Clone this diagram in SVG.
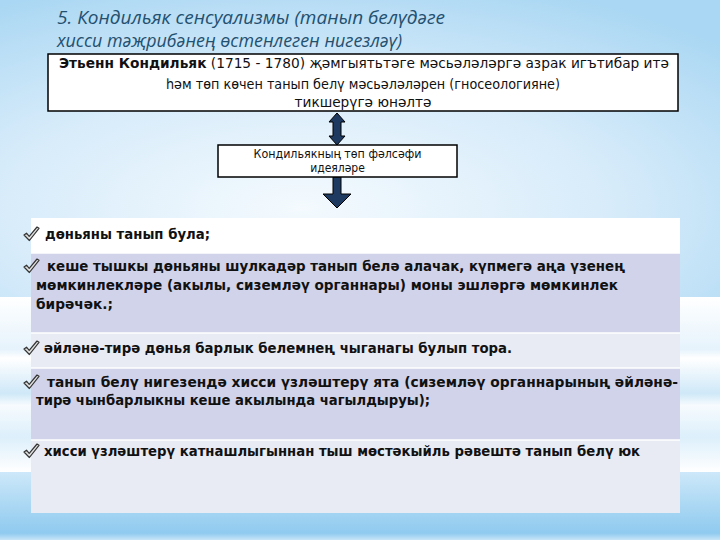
<svg xmlns="http://www.w3.org/2000/svg" width="720" height="540" viewBox="0 0 720 540">
<defs>
<radialGradient id="topbg" cx="0.42" cy="0.7" r="0.8">
<stop offset="0" stop-color="#f4fafe"/>
<stop offset="0.55" stop-color="#d6ebfa"/>
<stop offset="1" stop-color="#aad7f3"/>
</radialGradient>
<linearGradient id="midbg" x1="0" y1="0" x2="0" y2="1">
<stop offset="0" stop-color="#ffffff"/>
<stop offset="0.3" stop-color="#e6f3fc"/>
<stop offset="0.35" stop-color="#ffffff"/>
<stop offset="0.55" stop-color="#cfe8f8"/>
<stop offset="0.62" stop-color="#f7fbfe"/>
<stop offset="0.8" stop-color="#dceffb"/>
<stop offset="1" stop-color="#ffffff"/>
</linearGradient>
<linearGradient id="botbg" x1="0" y1="0" x2="0" y2="1">
<stop offset="0" stop-color="#cde8f9"/>
<stop offset="0.9" stop-color="#8fcaef"/>
<stop offset="1" stop-color="#c8e5f7"/>
</linearGradient>
<path id="chk" d="M0,8 L2.5,6.2 L5.2,9.4 L13,0 L15,1.3 L5.4,13.5 Z" fill="#e0e0e0" stroke="#333" stroke-width="1.2" stroke-linejoin="round"/>
<style>
.title{font-family:"Open Sans","DejaVu Sans",sans-serif;font-style:italic;font-size:17.5px;fill:#24506f}
.box{fill:#ffffff;stroke:#000;stroke-width:1.5}
.bt{font-family:"DejaVu Sans Condensed","DejaVu Sans",sans-serif;font-size:14px;fill:#111}
.st{font-family:"DejaVu Sans Condensed","DejaVu Sans",sans-serif;font-size:12px;fill:#111}
.tt{font-family:"DejaVu Sans Condensed","DejaVu Sans",sans-serif;font-size:14.5px;font-weight:bold;fill:#111}
.arr{fill:#1f3a60;stroke:#000;stroke-width:1}
.sep{stroke:#ffffff;stroke-width:1.5}
</style>
</defs>
<g id="background">
<rect x="0" y="0" width="720" height="297" fill="url(#topbg)"/>
<rect x="0" y="297" width="720" height="175" fill="url(#midbg)"/>
<rect x="0" y="472" width="720" height="68" fill="url(#botbg)"/>
</g>
<g id="title">
<text class="title" x="57" y="24" textLength="388" lengthAdjust="spacingAndGlyphs">5. Кондильяк сенсуализмы (танып белүдәге</text>
<text class="title" x="57" y="47" textLength="345" lengthAdjust="spacingAndGlyphs">хисси тәҗрибәнең өстенлеген нигезләү)</text>
</g>
<g id="connectors">
<polygon class="arr" points="337,113 345,122 341,122 341,136 345,136 337,145 329,136 333,136 333,122 329,122"/>
<polygon class="arr" points="333,177 341,177 341,194 351,194 337,208 323,194 333,194"/>
</g>
<g id="node-main">
<rect class="box" x="48" y="54" width="630" height="57"/>
<text class="bt" x="59" y="68" textLength="610" lengthAdjust="spacingAndGlyphs"><tspan font-weight="bold">Этьенн Кондильяк</tspan> (1715 - 1780) җәмгыятьтәге мәсьәләләргә азрак игътибар итә</text>
<text class="bt" x="363" y="89" text-anchor="middle" textLength="394" lengthAdjust="spacingAndGlyphs">һәм төп көчен танып белү мәсьәләләрен (гносеологияне)</text>
<text class="bt" x="363" y="107" text-anchor="middle" textLength="137" lengthAdjust="spacingAndGlyphs">тикшерүгә юнәлтә</text>
</g>
<g id="node-ideas">
<rect class="box" x="218" y="145" width="239" height="32"/>
<text class="st" x="337.5" y="157.5" text-anchor="middle" textLength="168" lengthAdjust="spacingAndGlyphs">Кондильякның төп фәлсәфи</text>
<text class="st" x="337.5" y="172" text-anchor="middle">идеяләре</text>
</g>
<g id="table">
<rect x="31" y="218" width="649" height="35" fill="#ffffff"/>
<rect x="31" y="253" width="649" height="80" fill="#d0d3ea"/>
<rect x="31" y="333" width="649" height="35" fill="#e8eaf4"/>
<rect x="31" y="368" width="649" height="72" fill="#d0d3ea"/>
<rect x="31" y="440" width="649" height="73" fill="#e8eaf4"/>
<line class="sep" x1="31" y1="253" x2="680" y2="253"/>
<line class="sep" x1="31" y1="333" x2="680" y2="333"/>
<line class="sep" x1="31" y1="368" x2="680" y2="368"/>
<line class="sep" x1="31" y1="440" x2="680" y2="440"/>
</g>
<g id="row1">
<use href="#chk" x="24" y="227"/>
<text class="tt" x="45" y="239" textLength="165" lengthAdjust="spacingAndGlyphs">дөньяны танып була;</text>
</g>
<g id="row2">
<use href="#chk" x="24" y="259"/>
<text class="tt" x="47" y="271" textLength="578" lengthAdjust="spacingAndGlyphs">кеше тышкы дөньяны шулкадәр танып белә алачак, күпмегә аңа үзенең</text>
<text class="tt" x="36" y="290" textLength="582" lengthAdjust="spacingAndGlyphs">мөмкинлекләре (акылы, сиземләү органнары) моны эшләргә мөмкинлек</text>
<text class="tt" x="36" y="309" textLength="77" lengthAdjust="spacingAndGlyphs">бирәчәк.;</text>
</g>
<g id="row3">
<use href="#chk" x="24" y="341"/>
<text class="tt" x="44" y="353" textLength="468" lengthAdjust="spacingAndGlyphs">әйләнә-тирә дөнья барлык белемнең чыганагы булып тора.</text>
</g>
<g id="row4">
<use href="#chk" x="24" y="375"/>
<text class="tt" x="47" y="387" textLength="631" lengthAdjust="spacingAndGlyphs">танып белү нигезендә хисси үзләштерү ята (сиземләү органнарының әйләнә-</text>
<text class="tt" x="36" y="405" textLength="394" lengthAdjust="spacingAndGlyphs">тирә чынбарлыкны кеше акылында чагылдыруы);</text>
</g>
<g id="row5">
<use href="#chk" x="24" y="444"/>
<text class="tt" x="44" y="456" textLength="596" lengthAdjust="spacingAndGlyphs">хисси үзләштерү катнашлыгыннан тыш мөстәкыйль рәвештә танып белү юк</text>
</g>
</svg>
